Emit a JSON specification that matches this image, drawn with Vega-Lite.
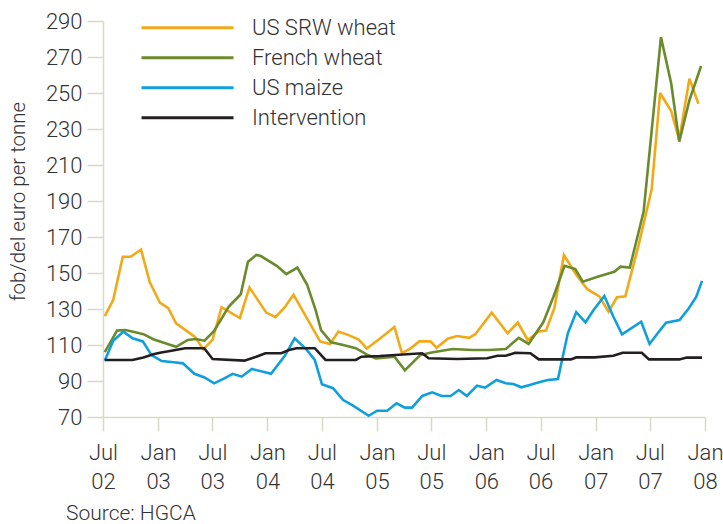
{
  "$schema": "https://vega.github.io/schema/vega-lite/v6.json",
  "autosize": {"type": "none"},
  "width": 602,
  "height": 396,
  "padding": {"left": 103, "top": 21, "right": 18, "bottom": 107},
  "background": "white",
  "config": {
    "font": "Roboto",
    "view": {"stroke": null},
    "legend": {"padding": 0}
  },
  "title": {"text": "Source: HGCA", "orient": "bottom", "anchor": "start", "frame": "group", "dx": -37, "offset": 10, "fontSize": 21, "fontWeight": 300, "color": "#333333", "font": "Roboto"},
  "data": {"values": [
    {"s":"US SRW wheat","d":"2002-07-07","v":126},
    {"s":"US SRW wheat","d":"2002-08-04","v":135},
    {"s":"US SRW wheat","d":"2002-09-05","v":159},
    {"s":"US SRW wheat","d":"2002-10-01","v":159},
    {"s":"US SRW wheat","d":"2002-11-05","v":163},
    {"s":"US SRW wheat","d":"2002-12-04","v":145},
    {"s":"US SRW wheat","d":"2003-01-07","v":133.5},
    {"s":"US SRW wheat","d":"2003-02-04","v":130.5},
    {"s":"US SRW wheat","d":"2003-03-02","v":122},
    {"s":"US SRW wheat","d":"2003-04-05","v":118},
    {"s":"US SRW wheat","d":"2003-05-04","v":114.5},
    {"s":"US SRW wheat","d":"2003-06-01","v":107.5},
    {"s":"US SRW wheat","d":"2003-07-02","v":113},
    {"s":"US SRW wheat","d":"2003-08-01","v":131},
    {"s":"US SRW wheat","d":"2003-10-01","v":125},
    {"s":"US SRW wheat","d":"2003-11-02","v":142},
    {"s":"US SRW wheat","d":"2003-12-28","v":128},
    {"s":"US SRW wheat","d":"2004-01-28","v":125.5},
    {"s":"US SRW wheat","d":"2004-02-28","v":131},
    {"s":"US SRW wheat","d":"2004-03-28","v":138},
    {"s":"US SRW wheat","d":"2004-06-25","v":112},
    {"s":"US SRW wheat","d":"2004-07-28","v":110.5},
    {"s":"US SRW wheat","d":"2004-08-25","v":117.5},
    {"s":"US SRW wheat","d":"2004-09-28","v":115.5},
    {"s":"US SRW wheat","d":"2004-11-01","v":113},
    {"s":"US SRW wheat","d":"2004-11-28","v":108},
    {"s":"US SRW wheat","d":"2005-01-10","v":113.5},
    {"s":"US SRW wheat","d":"2005-02-28","v":120},
    {"s":"US SRW wheat","d":"2005-03-25","v":105.5},
    {"s":"US SRW wheat","d":"2005-04-22","v":108},
    {"s":"US SRW wheat","d":"2005-05-22","v":112},
    {"s":"US SRW wheat","d":"2005-06-28","v":112},
    {"s":"US SRW wheat","d":"2005-07-19","v":108.5},
    {"s":"US SRW wheat","d":"2005-08-25","v":113.5},
    {"s":"US SRW wheat","d":"2005-09-25","v":115},
    {"s":"US SRW wheat","d":"2005-11-04","v":114},
    {"s":"US SRW wheat","d":"2005-11-25","v":116},
    {"s":"US SRW wheat","d":"2006-01-19","v":128},
    {"s":"US SRW wheat","d":"2006-03-13","v":116.5},
    {"s":"US SRW wheat","d":"2006-04-16","v":122.5},
    {"s":"US SRW wheat","d":"2006-05-19","v":112.8},
    {"s":"US SRW wheat","d":"2006-06-25","v":117.5},
    {"s":"US SRW wheat","d":"2006-07-19","v":118},
    {"s":"US SRW wheat","d":"2006-08-16","v":130.5},
    {"s":"US SRW wheat","d":"2006-09-17","v":160},
    {"s":"US SRW wheat","d":"2006-10-28","v":149},
    {"s":"US SRW wheat","d":"2006-12-04","v":141},
    {"s":"US SRW wheat","d":"2007-01-13","v":137},
    {"s":"US SRW wheat","d":"2007-02-13","v":128.5},
    {"s":"US SRW wheat","d":"2007-03-13","v":136.5},
    {"s":"US SRW wheat","d":"2007-04-10","v":137},
    {"s":"US SRW wheat","d":"2007-05-25","v":166},
    {"s":"US SRW wheat","d":"2007-07-07","v":196.5},
    {"s":"US SRW wheat","d":"2007-08-04","v":250},
    {"s":"US SRW wheat","d":"2007-09-10","v":240},
    {"s":"US SRW wheat","d":"2007-10-07","v":224},
    {"s":"US SRW wheat","d":"2007-11-10","v":258},
    {"s":"US SRW wheat","d":"2007-12-10","v":244},

    {"s":"French wheat","d":"2002-07-07","v":106},
    {"s":"French wheat","d":"2002-08-17","v":118},
    {"s":"French wheat","d":"2002-09-13","v":118.3},
    {"s":"French wheat","d":"2002-10-10","v":117.4},
    {"s":"French wheat","d":"2002-11-13","v":116},
    {"s":"French wheat","d":"2002-12-16","v":113.2},
    {"s":"French wheat","d":"2003-01-25","v":111},
    {"s":"French wheat","d":"2003-03-02","v":109},
    {"s":"French wheat","d":"2003-04-10","v":112.8},
    {"s":"French wheat","d":"2003-05-07","v":113.3},
    {"s":"French wheat","d":"2003-06-05","v":112.4},
    {"s":"French wheat","d":"2003-07-07","v":117.8},
    {"s":"French wheat","d":"2003-08-25","v":131.3},
    {"s":"French wheat","d":"2003-10-04","v":138.2},
    {"s":"French wheat","d":"2003-10-28","v":156.3},
    {"s":"French wheat","d":"2003-11-25","v":160},
    {"s":"French wheat","d":"2003-12-10","v":159.4},
    {"s":"French wheat","d":"2004-02-01","v":154},
    {"s":"French wheat","d":"2004-03-04","v":149.4},
    {"s":"French wheat","d":"2004-04-10","v":153},
    {"s":"French wheat","d":"2004-05-13","v":143.3},
    {"s":"French wheat","d":"2004-06-10","v":129.4},
    {"s":"French wheat","d":"2004-06-28","v":118.3},
    {"s":"French wheat","d":"2004-08-01","v":111.5},
    {"s":"French wheat","d":"2004-09-10","v":110},
    {"s":"French wheat","d":"2004-10-22","v":108.2},
    {"s":"French wheat","d":"2004-12-01","v":104.4},
    {"s":"French wheat","d":"2004-12-28","v":102.6},
    {"s":"French wheat","d":"2005-02-28","v":103.5},
    {"s":"French wheat","d":"2005-04-04","v":96},
    {"s":"French wheat","d":"2005-05-25","v":104.4},
    {"s":"French wheat","d":"2005-06-28","v":105.7},
    {"s":"French wheat","d":"2005-08-01","v":106.7},
    {"s":"French wheat","d":"2005-09-10","v":107.8},
    {"s":"French wheat","d":"2005-11-16","v":107.2},
    {"s":"French wheat","d":"2006-01-10","v":107.2},
    {"s":"French wheat","d":"2006-03-07","v":107.8},
    {"s":"French wheat","d":"2006-04-19","v":114},
    {"s":"French wheat","d":"2006-05-22","v":110.6},
    {"s":"French wheat","d":"2006-07-10","v":122.6},
    {"s":"French wheat","d":"2006-08-13","v":136.8},
    {"s":"French wheat","d":"2006-09-19","v":154},
    {"s":"French wheat","d":"2006-10-25","v":152.2},
    {"s":"French wheat","d":"2006-11-19","v":145.2},
    {"s":"French wheat","d":"2007-01-10","v":148},
    {"s":"French wheat","d":"2007-03-04","v":150.7},
    {"s":"French wheat","d":"2007-03-25","v":153.5},
    {"s":"French wheat","d":"2007-04-25","v":153},
    {"s":"French wheat","d":"2007-06-10","v":184},
    {"s":"French wheat","d":"2007-08-07","v":281},
    {"s":"French wheat","d":"2007-09-10","v":255.4},
    {"s":"French wheat","d":"2007-10-07","v":223},
    {"s":"French wheat","d":"2007-11-10","v":246},
    {"s":"French wheat","d":"2007-12-19","v":265},

    {"s":"US maize","d":"2002-07-07","v":101.3},
    {"s":"US maize","d":"2002-08-04","v":112.4},
    {"s":"US maize","d":"2002-09-07","v":117.4},
    {"s":"US maize","d":"2002-10-08","v":113.7},
    {"s":"US maize","d":"2002-11-11","v":112},
    {"s":"US maize","d":"2002-12-10","v":104.4},
    {"s":"US maize","d":"2003-01-13","v":101.1},
    {"s":"US maize","d":"2003-02-22","v":100.4},
    {"s":"US maize","d":"2003-03-25","v":99.8},
    {"s":"US maize","d":"2003-05-02","v":94},
    {"s":"US maize","d":"2003-06-05","v":92},
    {"s":"US maize","d":"2003-07-07","v":88.7},
    {"s":"US maize","d":"2003-08-10","v":91.5},
    {"s":"US maize","d":"2003-09-07","v":94},
    {"s":"US maize","d":"2003-10-07","v":92.4},
    {"s":"US maize","d":"2003-11-10","v":96.7},
    {"s":"US maize","d":"2004-01-13","v":94},
    {"s":"US maize","d":"2004-02-28","v":104},
    {"s":"US maize","d":"2004-04-01","v":113.7},
    {"s":"US maize","d":"2004-05-10","v":107.6},
    {"s":"US maize","d":"2004-06-07","v":101.7},
    {"s":"US maize","d":"2004-07-01","v":88.2},
    {"s":"US maize","d":"2004-08-07","v":86},
    {"s":"US maize","d":"2004-09-10","v":79.4},
    {"s":"US maize","d":"2004-10-13","v":76.3},
    {"s":"US maize","d":"2004-12-04","v":70.7},
    {"s":"US maize","d":"2005-01-01","v":73.5},
    {"s":"US maize","d":"2005-02-04","v":73.5},
    {"s":"US maize","d":"2005-03-07","v":77.6},
    {"s":"US maize","d":"2005-04-04","v":75.2},
    {"s":"US maize","d":"2005-04-28","v":75.2},
    {"s":"US maize","d":"2005-06-01","v":81.7},
    {"s":"US maize","d":"2005-07-04","v":83.7},
    {"s":"US maize","d":"2005-08-04","v":81.7},
    {"s":"US maize","d":"2005-09-04","v":81.7},
    {"s":"US maize","d":"2005-10-01","v":85},
    {"s":"US maize","d":"2005-10-28","v":81.7},
    {"s":"US maize","d":"2005-12-01","v":87.4},
    {"s":"US maize","d":"2005-12-28","v":86.3},
    {"s":"US maize","d":"2006-02-04","v":90.6},
    {"s":"US maize","d":"2006-03-07","v":88.7},
    {"s":"US maize","d":"2006-04-01","v":88.3},
    {"s":"US maize","d":"2006-04-28","v":86.5},
    {"s":"US maize","d":"2006-05-26","v":87.8},
    {"s":"US maize","d":"2006-06-23","v":89.1},
    {"s":"US maize","d":"2006-07-25","v":90.6},
    {"s":"US maize","d":"2006-08-28","v":91.1},
    {"s":"US maize","d":"2006-09-30","v":116.5},
    {"s":"US maize","d":"2006-10-28","v":128.2},
    {"s":"US maize","d":"2006-11-28","v":122.6},
    {"s":"US maize","d":"2006-12-25","v":129.4},
    {"s":"US maize","d":"2007-01-30","v":137.2},
    {"s":"US maize","d":"2007-02-28","v":126.1},
    {"s":"US maize","d":"2007-03-30","v":115.9},
    {"s":"US maize","d":"2007-06-02","v":122.9},
    {"s":"US maize","d":"2007-06-30","v":110.6},
    {"s":"US maize","d":"2007-07-27","v":116.5},
    {"s":"US maize","d":"2007-08-24","v":122.4},
    {"s":"US maize","d":"2007-10-08","v":123.9},
    {"s":"US maize","d":"2007-11-08","v":130.4},
    {"s":"US maize","d":"2007-12-03","v":136.8},
    {"s":"US maize","d":"2007-12-22","v":145.6},

    {"s":"Intervention","d":"2002-07-07","v":101.7},
    {"s":"Intervention","d":"2002-10-07","v":101.7},
    {"s":"Intervention","d":"2002-11-13","v":103.1},
    {"s":"Intervention","d":"2002-12-16","v":104.8},
    {"s":"Intervention","d":"2003-01-07","v":105.7},
    {"s":"Intervention","d":"2003-02-10","v":106.7},
    {"s":"Intervention","d":"2003-04-01","v":108.2},
    {"s":"Intervention","d":"2003-06-04","v":108.2},
    {"s":"Intervention","d":"2003-07-02","v":102.2},
    {"s":"Intervention","d":"2003-10-16","v":101.3},
    {"s":"Intervention","d":"2003-11-25","v":103.5},
    {"s":"Intervention","d":"2003-12-25","v":105.4},
    {"s":"Intervention","d":"2004-02-16","v":105.4},
    {"s":"Intervention","d":"2004-03-13","v":107.2},
    {"s":"Intervention","d":"2004-04-07","v":108.2},
    {"s":"Intervention","d":"2004-06-07","v":108.2},
    {"s":"Intervention","d":"2004-07-13","v":101.7},
    {"s":"Intervention","d":"2004-10-22","v":101.7},
    {"s":"Intervention","d":"2004-11-10","v":103.5},
    {"s":"Intervention","d":"2005-01-10","v":103.9},
    {"s":"Intervention","d":"2005-06-01","v":105.4},
    {"s":"Intervention","d":"2005-06-22","v":102.6},
    {"s":"Intervention","d":"2005-09-25","v":102.2},
    {"s":"Intervention","d":"2006-01-04","v":102.6},
    {"s":"Intervention","d":"2006-02-07","v":104},
    {"s":"Intervention","d":"2006-03-07","v":104},
    {"s":"Intervention","d":"2006-04-07","v":105.7},
    {"s":"Intervention","d":"2006-05-28","v":105.4},
    {"s":"Intervention","d":"2006-06-25","v":102},
    {"s":"Intervention","d":"2006-10-10","v":102},
    {"s":"Intervention","d":"2006-10-28","v":103.1},
    {"s":"Intervention","d":"2006-12-28","v":103.1},
    {"s":"Intervention","d":"2007-03-01","v":104},
    {"s":"Intervention","d":"2007-04-01","v":105.7},
    {"s":"Intervention","d":"2007-06-04","v":105.7},
    {"s":"Intervention","d":"2007-06-28","v":102},
    {"s":"Intervention","d":"2007-10-07","v":102},
    {"s":"Intervention","d":"2007-11-01","v":103},
    {"s":"Intervention","d":"2007-12-22","v":103}
  ]},
  "mark": {"type": "line", "strokeWidth": 2.6, "strokeJoin": "miter", "strokeMiterLimit": 3},
  "encoding": {
    "x": {
      "field": "d", "type": "temporal",
      "scale": {"type": "utc", "domain": [{"year": 2002, "month": 7, "date": 1, "utc": true}, {"year": 2008, "month": 1, "date": 1, "utc": true}]},
      "axis": {
        "title": null,
        "values": [
          {"year": 2002, "month": 7, "date": 1, "utc": true},
          {"year": 2003, "month": 1, "date": 1, "utc": true},
          {"year": 2003, "month": 7, "date": 1, "utc": true},
          {"year": 2004, "month": 1, "date": 1, "utc": true},
          {"year": 2004, "month": 7, "date": 1, "utc": true},
          {"year": 2005, "month": 1, "date": 1, "utc": true},
          {"year": 2005, "month": 7, "date": 1, "utc": true},
          {"year": 2006, "month": 1, "date": 1, "utc": true},
          {"year": 2006, "month": 7, "date": 1, "utc": true},
          {"year": 2007, "month": 1, "date": 1, "utc": true},
          {"year": 2007, "month": 7, "date": 1, "utc": true},
          {"year": 2008, "month": 1, "date": 1, "utc": true}
        ],
        "labelExpr": "[utcFormat(datum.value, '%b'), utcFormat(datum.value, '%y')]",
        "labelLineHeight": 29.5,
        "labelFontSize": 22,
        "labelFontWeight": 300,
        "labelColor": "#333333",
        "labelPadding": 11,
        "labelFlush": false,
        "labelOverlap": false,
        "grid": false,
        "domainColor": "#d8dbc3",
        "domainWidth": 1.5,
        "tickColor": "#d8dbc3",
        "tickWidth": 1.5,
        "tickSize": 14
      }
    },
    "y": {
      "field": "v", "type": "quantitative",
      "scale": {"domain": [70, 290], "nice": false, "zero": false},
      "axis": {
        "title": "fob/del euro per tonne",
        "titleFontSize": 20.5,
        "titleFontWeight": 300,
        "titleColor": "#333333",
        "titleAngle": 270,
        "titleAlign": "center",
        "titleBaseline": "middle",
        "titleX": -85,
        "titleY": 180,
        "values": [70, 90, 110, 130, 150, 170, 190, 210, 230, 250, 270, 290],
        "labelFontSize": 22,
        "labelFontWeight": 300,
        "labelColor": "#333333",
        "labelPadding": 5,
        "grid": false,
        "domainColor": "#d8dbc3",
        "domainWidth": 1.5,
        "tickColor": "#d8dbc3",
        "tickWidth": 1.5,
        "tickSize": 16
      }
    },
    "color": {
      "field": "s", "type": "nominal",
      "scale": {"domain": ["US SRW wheat", "French wheat", "US maize", "Intervention"], "range": ["#f2a918", "#6b8a2c", "#0f9fdc", "#231f20"]},
      "legend": {
        "title": null,
        "orient": "none",
        "legendX": 37,
        "legendY": -8,
        "symbolType": "stroke",
        "symbolSize": 8464,
        "symbolStrokeWidth": 3,
        "clipHeight": 29.5,
        "rowPadding": 0,
        "labelOffset": 17,
        "labelFontSize": 22,
        "labelFontWeight": 300,
        "labelColor": "#333333",
        "labelLimit": 300
      }
    }
  }
}
